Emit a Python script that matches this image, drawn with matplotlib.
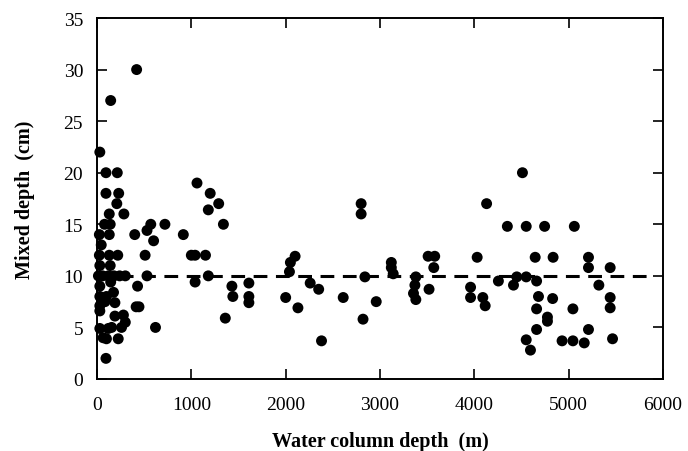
import matplotlib
matplotlib.use("Agg")
import matplotlib.pyplot as plt

# Water column depth (m)
depth = [
    30, 420, 145, 95, 215, 95, 230, 210, 130, 285, 80, 140, 25, 130, 400,
    530, 570, 600, 720, 915, 45, 25, 130, 220, 510, 1000, 1040, 1150,
    1060, 1200, 1180, 1290, 1340, 530, 1180, 1040, 1430, 1440,
    1610, 1610, 1610, 1360, 620, 430, 415, 445, 95, 30, 140,
    15, 60, 120, 180, 240, 300, 30, 145, 30, 100, 175, 190, 30, 85, 30,
    190, 280, 300, 260, 30, 120, 155, 65, 100, 225,
    2800, 2800, 2050, 2100, 2040, 2000, 2130, 2260, 2350, 2380, 2610,
    2840, 2820, 2960, 3120, 3120, 3140, 3380, 3370, 3355, 3380, 3520,
    3510, 3580, 3570, 3960, 3960, 4030, 4090, 4115, 4130, 4255,
    4350, 4550, 4745, 5060, 4415, 4450, 4550, 4660, 4550, 4595, 4510,
    4645, 4835, 5210, 5210, 5440, 5320, 4680, 4830, 4660, 4775, 4775,
    5045, 5440, 5440, 4660, 4930, 5045, 5165, 5465, 5210,
]
# Mixed depth (cm)
mixed = [
    22, 30, 27, 20, 20, 18, 18, 17, 16, 16, 15, 15, 14, 14, 14,
    14.4, 15, 13.4, 15, 14, 13, 12, 12, 12, 12, 12, 12, 12,
    19, 18, 16.4, 17, 15, 10, 10, 9.4, 9, 8,
    9.3, 8.0, 7.4, 5.9, 5, 9, 7, 7, 2, 11, 11,
    10, 10, 10, 10, 10, 10, 9, 9.4, 8, 8, 8.4, 7.4, 7.1, 7.5, 6.6,
    6.1, 6.2, 5.5, 5, 4.9, 4.9, 5, 4, 3.9, 3.9,
    17, 16, 11.3, 11.9, 10.4, 7.9, 6.9, 9.3, 8.7, 3.7, 7.9,
    9.9, 5.8, 7.5, 11.3, 10.8, 10.2, 9.9, 9.1, 8.3, 7.7, 8.7,
    11.9, 11.9, 10.8, 8.9, 7.9, 11.8, 7.9, 7.1, 17, 9.5,
    14.8, 14.8, 14.8, 14.8, 9.1, 9.9, 9.9, 9.5, 3.8, 2.8, 20,
    11.8, 11.8, 11.8, 10.8, 10.8, 9.1, 8, 7.8, 6.8, 6.0, 5.6,
    6.8, 7.9, 6.9, 4.8, 3.7, 3.7, 3.5, 3.9, 4.8,
]
mean_x = [0, 5880]
mean_y = [10, 10]

x_ticks = [0, 1000, 2000, 3000, 4000, 5000, 6000]
y_ticks = [0, 5, 10, 15, 20, 25, 30, 35]

plt.rcParams['font.family'] = ['Liberation Serif', 'DejaVu Serif']

fig = plt.figure(figsize=(6.88, 4.52), dpi=100)
ax = fig.add_axes([97/688, 1-380/452, (663-97)/688, (380-19)/452])

ax.scatter(depth, mixed, s=62, c='black', edgecolors='none', zorder=3, clip_on=False)
ax.plot(mean_x, mean_y, color='black', lw=2.2, dashes=(4.5, 2.8), zorder=2)

ax.set_xlim(0, 6000)
ax.set_ylim(0, 35)
ax.set_xticks(x_ticks)
ax.set_yticks(y_ticks)
ax.tick_params(direction='in', length=7, width=1.2, top=True, right=True,
               labelsize=14)
ax.tick_params(axis='x', pad=12)
ax.tick_params(axis='y', pad=10)
for sp in ax.spines.values():
    sp.set_linewidth(1.4)

ax.set_xlabel('Water column depth  (m)', fontsize=14.5, fontweight='bold', labelpad=13.5)
ax.set_ylabel('Mixed depth  (cm)', fontsize=14.5, fontweight='bold', labelpad=20.5)

fig.savefig('out.png', dpi=100)
